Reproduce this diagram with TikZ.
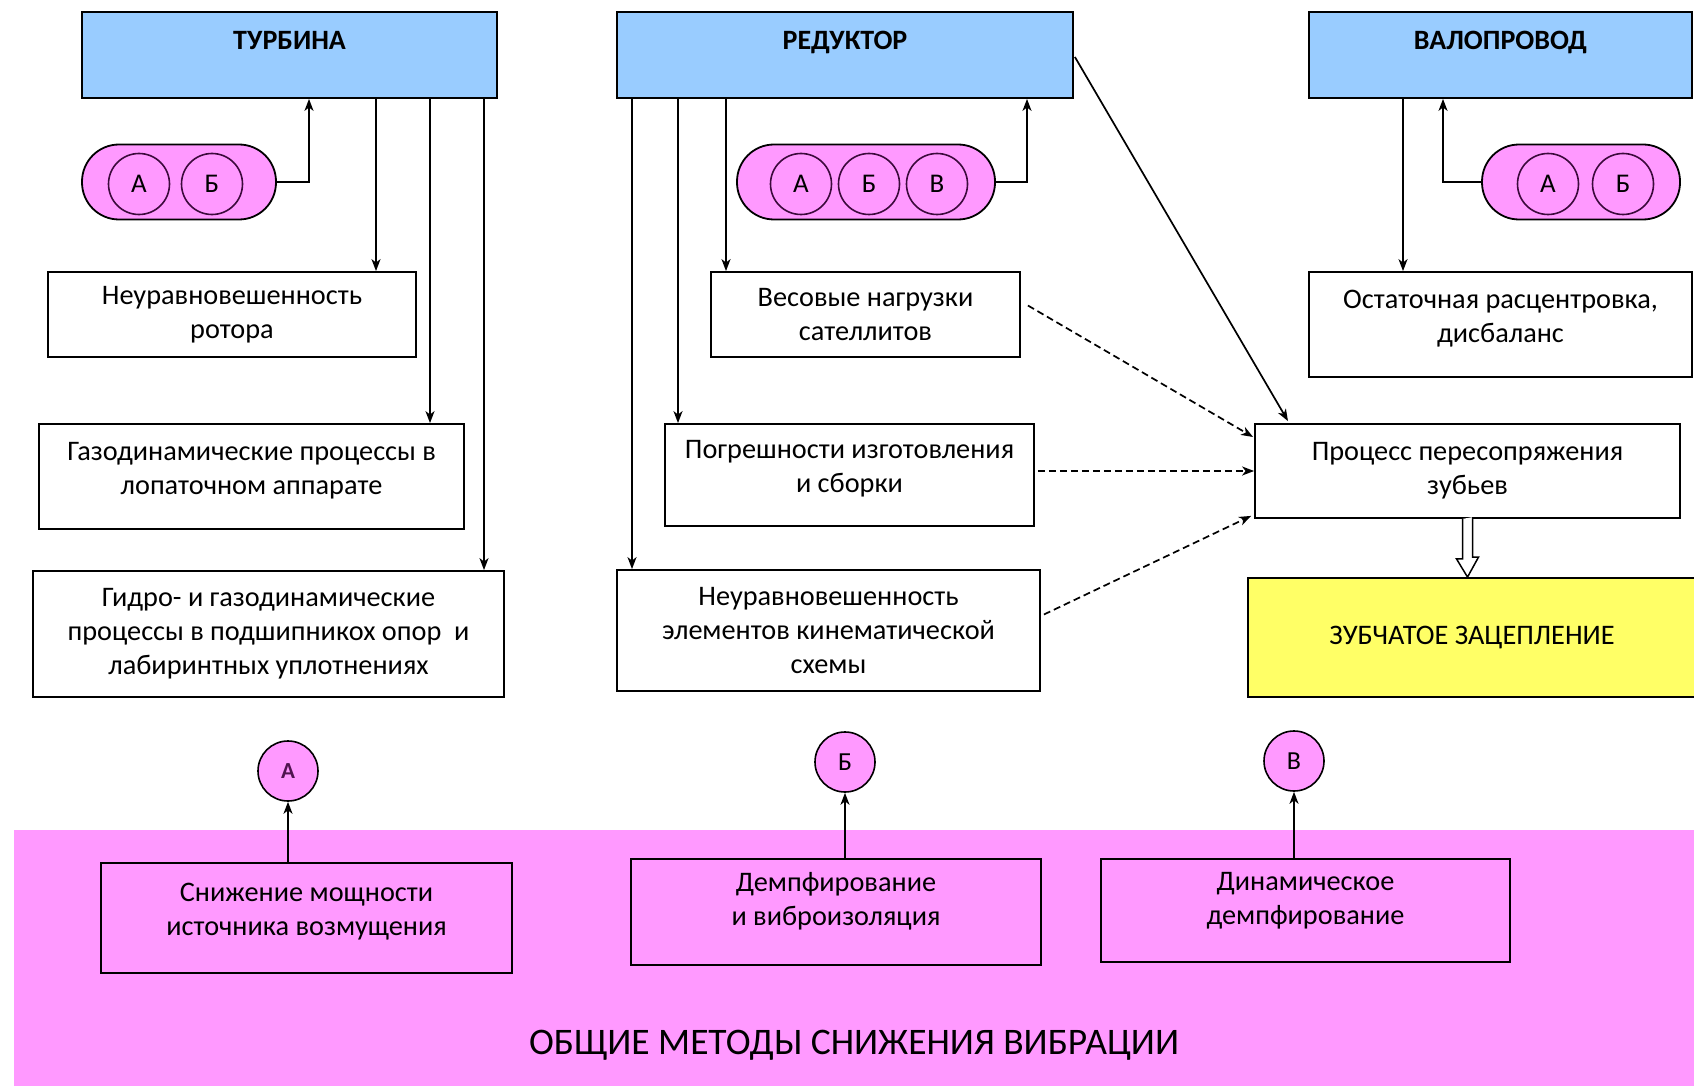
\documentclass[tikz,border=0pt]{standalone}
\usepackage{fontspec}
\setmainfont{Carlito}
\usetikzlibrary{arrows.meta,calc}
\definecolor{hdrblue}{RGB}{153,204,255}
\definecolor{pinkf}{RGB}{255,153,255}
\definecolor{yell}{RGB}{255,255,102}
\definecolor{cpurp}{RGB}{60,10,60}
\definecolor{apurp}{RGB}{80,20,80}
\begin{document}
\begin{tikzpicture}[x=1pt,y=-1pt,
  every node/.style={inner sep=0pt},
  txt/.style={align=center, font=\fontsize{28.3}{34}\selectfont},
  box/.style={draw, line width=1.8pt},
  hdr/.style={draw, line width=1.8pt, fill=hdrblue, font=\fontsize{28}{32}\selectfont\bfseries, text depth=30pt},
  pill/.style={draw, line width=1.8pt, fill=pinkf, rounded corners=37pt},
  letc/.style={circle, draw=cpurp, line width=1.6pt, minimum size=61pt, font=\fontsize{27}{30}\selectfont},
  botc/.style={circle, draw=black, fill=pinkf, line width=1.6pt, minimum size=60pt, font=\fontsize{26}{30}\selectfont},
  arr/.style={line width=1.7pt, -{Stealth[length=12pt,width=9pt,inset=3.5pt]}},
  dsh/.style={arr, dash pattern=on 7pt off 4pt},
]
\useasboundingbox (0,0) rectangle (1694,1086);
\fill[white] (0,0) rectangle (1694,1086);
\fill[pinkf] (14,830) rectangle (1700,1090);

% headers
\node[hdr, minimum width=415pt, minimum height=86pt] (turb) at (289.5,55) {ТУРБИНА};
\node[hdr, minimum width=456pt, minimum height=86pt] (red) at (845,55) {РЕДУКТОР};
\node[hdr, minimum width=383pt, minimum height=86pt] (val) at (1500.5,55) {ВАЛОПРОВОД};

% pills
\node[pill, minimum width=194pt, minimum height=75pt] (pill1) at (179,182) {};
\node[letc] (p1a) at (139,184) {А};
\node[letc] (p1b) at (212,184) {Б};
\node[pill, minimum width=258pt, minimum height=75pt] (pill2) at (866,182) {};
\node[letc] (p2a) at (801,184) {А};
\node[letc] (p2b) at (869,184) {Б};
\node[letc] (p2c) at (937,184) {В};
\node[pill, minimum width=198pt, minimum height=75pt] (pill3) at (1581,182) {};
\node[letc] (p3a) at (1548,184) {А};
\node[letc] (p3b) at (1623,184) {Б};

% turbine boxes
\node[box, minimum width=368pt, minimum height=85pt] (b1) at (232,314.5) {};
\node[txt] (b1t) at (b1.center) {Неуравновешенность\\ротора};
\node[box, minimum width=425pt, minimum height=105pt] (b2) at (251.5,476.5) {};
\node[txt] (b2t) at ([yshift=6pt]b2.center) {Газодинамические процессы в\\лопаточном аппарате};
\node[box, minimum width=471pt, minimum height=126pt] (b3) at (268.5,634) {};
\node[txt] (b3t) at (b3.center) {Гидро- и газодинамические\\процессы в подшипникох опор~ и\\лабиринтных уплотнениях};

% reductor boxes
\node[box, minimum width=309pt, minimum height=85pt] (b4) at (865.5,314.5) {};
\node[txt] (b4t) at (b4.center) {Весовые нагрузки\\сателлитов};
\node[box, minimum width=369pt, minimum height=102pt] (b5) at (849.5,475) {};
\node[txt] (b5t) at ([yshift=6pt]b5.center) {Погрешности изготовления\\и сборки};
\node[box, minimum width=423pt, minimum height=121pt] (b6) at (828.5,630.5) {};
\node[txt] (b6t) at (b6.center) {Неуравновешенность\\элементов кинематической\\схемы};

% right column
\node[box, minimum width=383pt, minimum height=105pt] (b7) at (1500.5,324.5) {};
\node[txt] (b7t) at ([yshift=6pt]b7.center) {Остаточная расцентровка,\\дисбаланс};
\node[box, minimum width=425pt, minimum height=94pt] (proc) at (1467.5,471) {};
\node[txt] (proct) at (proc.center) {Процесс пересопряжения\\зубьев};
\node[box, fill=yell, minimum width=460pt, minimum height=119pt] (zub) at (1478,637.5) {};
\node[txt] (zubt) at (1472,638) {ЗУБЧАТОЕ ЗАЦЕПЛЕНИЕ};

% bottom methods
\node[box, minimum width=411pt, minimum height=110pt] (m1) at (306.5,918) {};
\node[txt] (m1t) at ([yshift=6pt]m1.center) {Снижение мощности\\источника возмущения};
\node[box, minimum width=410pt, minimum height=106pt] (m2) at (836,912) {};
\node[txt] (m2t) at ([yshift=11pt]m2.center) {Демпфирование\\и виброизоляция};
\node[box, minimum width=409pt, minimum height=103pt] (m3) at (1305.5,910.5) {};
\node[txt] (m3t) at ([yshift=10pt]m3.center) {Динамическое\\демпфирование};

\node[botc, font=\fontsize{23}{26}\selectfont\bfseries, text=apurp] (c1) at (288,771) {А};
\node[botc] (c2) at (845,762) {Б};
\node[botc] (c3) at (1294,761) {В};

\node[font=\fontsize{37.5}{42}\selectfont] (title) at (854,1045) {ОБЩИЕ МЕТОДЫ СНИЖЕНИЯ ВИБРАЦИИ};

% helper x positions
\coordinate (t1) at (376,0);
\coordinate (t2) at (430,0);
\coordinate (t3) at (484,0);
\coordinate (tp) at (309,0);
\coordinate (r1) at (632,0);
\coordinate (r2) at (678,0);
\coordinate (r3) at (726,0);
\coordinate (rp) at (1027,0);
\coordinate (v1) at (1403,0);
\coordinate (vp) at (1443,0);
\coordinate (pt) at (1288,0);

% turbine connectors
\draw[arr] (turb.south -| t1) -- (b1.north -| t1);
\draw[arr] (turb.south -| t2) -- (b2.north -| t2);
\draw[arr] (turb.south -| t3) -- (b3.north -| t3);
\draw[arr] (pill1.east) -| (turb.south -| tp);

% reductor connectors
\draw[arr] (red.south -| r1) -- (b6.north -| r1);
\draw[arr] (red.south -| r2) -- (b5.north -| r2);
\draw[arr] (red.south -| r3) -- (b4.north -| r3);
\draw[arr] (pill2.east) -| (red.south -| rp);
\draw[arr] ([shift={(1,2)}]red.east) -- ([shift={(0,-2)}]proc.north -| pt);

% valoprovod connectors
\draw[arr] (val.south -| v1) -- (b7.north -| v1);
\draw[arr] (pill3.west) -| (val.south -| vp);

% dashed to process
\draw[dsh] ([shift={(7,-9)}]b4.east) -- ([shift={(-1,-34)}]proc.west);
\draw[dsh, shorten <=3pt] (b5.east |- proc.west) -- (proc.west);
\draw[dsh] ([shift={(3,-16)}]b6.east) -- ([shift={(-3,-3)}]proc.south west);

% hollow arrow
\draw[line width=1.5pt, fill=white] ([xshift=-5pt]proc.south) -- ++(0,40) -- ++(-6,0)
  -- (proc.south |- zub.north) -- ++(11,-20) -- ++(-6,0) -- ++(0,-40);

% bottom connectors
\draw[arr] (m1.north -| c1) -- (c1.south);
\draw[arr] (m2.north -| c2) -- (c2.south);
\draw[arr] (m3.north -| c3) -- (c3.south);
\end{tikzpicture}
\end{document}
